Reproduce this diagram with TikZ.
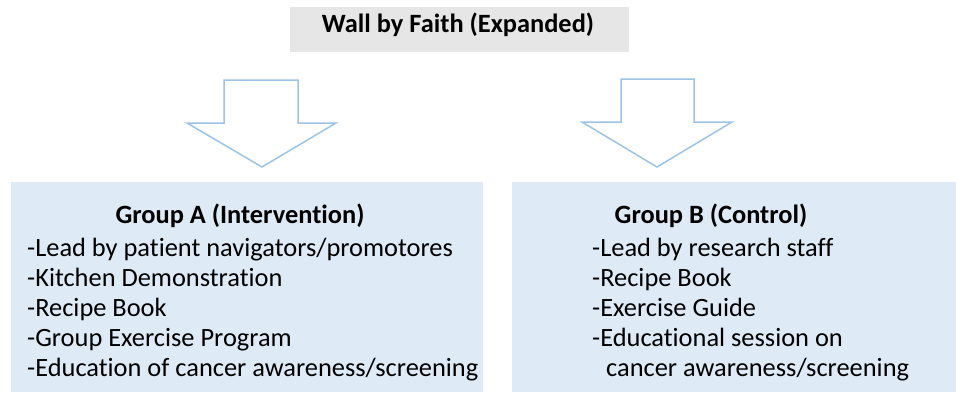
\documentclass[tikz,border=0pt]{standalone}
\usepackage{fontspec}
\setmainfont[Ligatures={NoCommon}]{Carlito}
\definecolor{titlegray}{HTML}{E6E6E6}
\definecolor{groupblue}{HTML}{DEEAF6}
\definecolor{arrowblue}{HTML}{9DC3E6}
\tikzset{
  groupbox/.style={fill=groupblue, draw=none},
  downarrow/.style={draw=arrowblue, line width=1.5pt, fill=white, line join=miter},
  itemtext/.style={anchor=base west, inner sep=0pt, font=\fontsize{26.4}{30}\selectfont},
  headtext/.style={anchor=base, inner sep=0pt, font=\fontsize{26.4}{30}\selectfont\bfseries}
}
\begin{document}
\begin{tikzpicture}[x=1pt, y=-1pt]
    \useasboundingbox (0,0) rectangle (956,392);
    % title
    \fill[titlegray] (290,7) rectangle (629,52);
    \node[headtext] (title) at (458,32) {Wall by Faith (Expanded)};

    % block arrows
    \draw[downarrow] (224,80) -- (298,80) -- (298,123) -- (336,123) -- (262,167)
                     -- (187,123) -- (224,123) -- cycle;
    \draw[downarrow] (621,79) -- (694,79) -- (694,122) -- (732,122) -- (657,167)
                     -- (582,122) -- (621,122) -- cycle;

    % group A
    \node[groupbox, minimum width=472pt, minimum height=210pt, anchor=north west] (boxA) at (11,182) {};
    \node[headtext] (headA) at (240,223) {Group A (Intervention)};
    \foreach \line [count=\i from 0] in {-Lead by patient navigators/promotores,
        -Kitchen Demonstration, -Recipe Book, -Group Exercise Program,
        -Education of cancer awareness/screening}
      \node[itemtext] (itemA\i) at (27,256.7+30*\i) {\line};

    % group B
    \node[groupbox, minimum width=444pt, minimum height=210pt, anchor=north west] (boxB) at (512,182) {};
    \node[headtext] (headB) at (711,223) {Group B (Control)};
    \foreach \line [count=\i from 0] in {-Lead by research staff, -Recipe Book,
        -Exercise Guide, -Educational session on}
      \node[itemtext] (itemB\i) at (592,256.7+30*\i) {\line};
    \node[itemtext] (itemB4) at (606,376.7) {cancer awareness/screening};
  \end{tikzpicture}
\end{document}
